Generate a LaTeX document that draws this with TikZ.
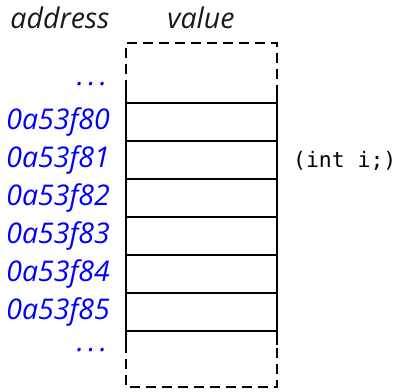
\documentclass[tikz,border=0pt]{standalone}
\usepackage{fontspec}
\setmainfont{Open Sans}
\setmonofont{DejaVu Sans Mono}
\begin{document}
\begin{tikzpicture}[x=1pt,y=-1pt,
  addr/.style={anchor=east,text=blue,font=\fontsize{28.5}{32}\selectfont\itshape,inner sep=0pt},
  head/.style={font=\fontsize{28.5}{32}\selectfont\itshape,text=black!90,inner sep=0pt},
  cellline/.style={line width=1.9pt},
  dashline/.style={line width=1.9pt,dash pattern=on 10pt off 6pt}]
\useasboundingbox (0,0) rectangle (401,391);
\node[head] (haddr) at (60,18) {address};
\node[head] (hval) at (201,18) {value};
% box
\draw[dashline] (126,90) -- (126,43) -- (277,43) -- (277,90);
\draw[dashline] (126,343) -- (126,387) -- (277,387) -- (277,343);
\draw[cellline] (126,88) -- (126,345);
\draw[cellline] (277,88) -- (277,345);
\foreach \y in {103,141,179,217,255,293,331}
  \draw[cellline] (126,\y) -- (277,\y);
\node[addr,anchor=center] (dtop) at (92,84) {.\hspace{4.3pt}.\hspace{4.3pt}.};
\node[addr] (a0) at (110,122) {0a53f80};
\node[addr] (a1) at (110,160) {0a53f81};
\node[addr] (a2) at (110,198) {0a53f82};
\node[addr] (a3) at (110,236) {0a53f83};
\node[addr] (a4) at (110,274) {0a53f84};
\node[addr] (a5) at (110,312) {0a53f85};
\node[addr,anchor=center] (dbot) at (92,350) {.\hspace{4.3pt}.\hspace{4.3pt}.};
\node[anchor=west,inner sep=0pt,font=\fontsize{21.4}{25}\selectfont\ttfamily] (decl) at (293,161) {(int i;)};
\end{tikzpicture}
\end{document}
